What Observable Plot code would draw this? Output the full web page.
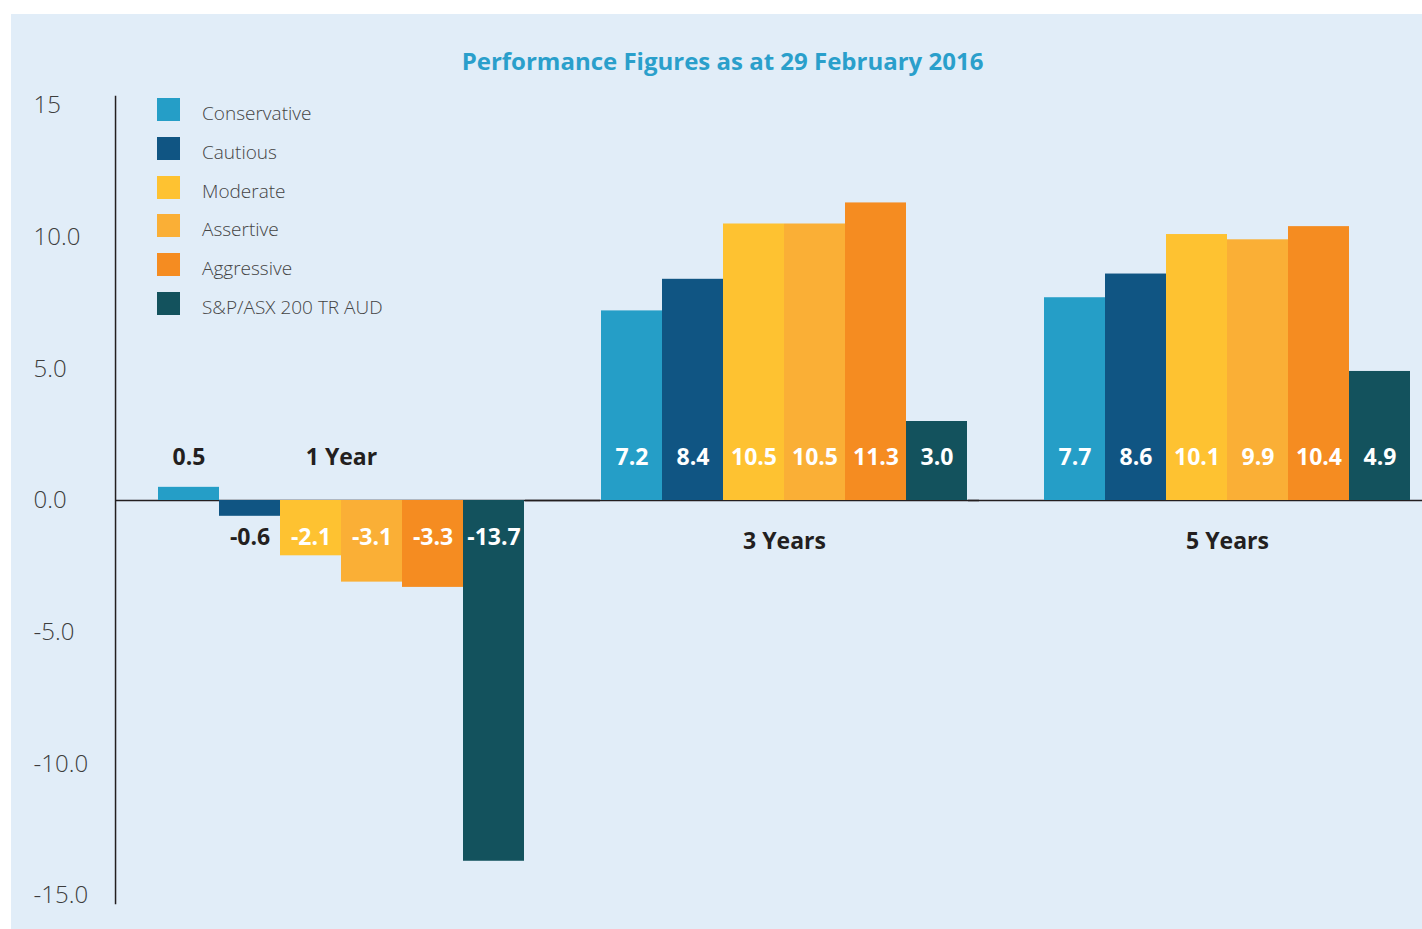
<!DOCTYPE html>
<html>
<head>
<meta charset="utf-8">
<script src="https://cdn.jsdelivr.net/npm/d3@7"></script>
<script src="https://cdn.jsdelivr.net/npm/@observablehq/plot@0.6"></script>
<style>
html, body { margin: 0; padding: 0; background: #ffffff; }
#panel { position: absolute; left: 11px; top: 14px; width: 1411px; height: 915px; background: #e1edf8; font-family: "Open Sans", sans-serif; overflow: hidden; }
#title { position: absolute; left: 6px; top: 31px; width: 1411px; text-align: center; color: #2a9fcb; font-weight: 700; font-size: 24px; line-height: 32px; margin: 0; }
#chart { position: absolute; left: 0; top: 72px; }
#legend { position: absolute; left: 146px; top: 84px; }
.row { position: relative; height: 38.8px; }
.sw { position: absolute; left: 0; top: 0; width: 23px; height: 23px; }
.lab { position: absolute; left: 45px; top: 4px; white-space: nowrap; font-size: 19px; line-height: 23px; font-weight: 300; color: #444444; }
</style>
</head>
<body>
<div id="panel">
  <div id="title">Performance Figures as at 29 February 2016</div>
  <div id="chart"></div>
  <div id="legend"></div>
</div>
<script>
const groups = ["1 Year", "3 Years", "5 Years"];
const series = ["Conservative", "Cautious", "Moderate", "Assertive", "Aggressive", "S&P/ASX 200 TR AUD"];
const colors = ["#259ec7", "#105583", "#fec231", "#faaf36", "#f58c21", "#13525d"];
const oneYear = [0.5, -0.6, -2.1, -3.1, -3.3, -13.7];
const threeYears = [7.2, 8.4, 10.5, 10.5, 11.3, 3.0];
const fiveYears = [7.7, 8.6, 10.1, 9.9, 10.4, 4.9];
const yTicks = [15, 10, 5, 0, -5, -10, -15];
const yTickLabels = ["15", "10.0", "5.0", "0.0", "-5.0", "-10.0", "-15.0"];

const groupValues = [oneYear, threeYears, fiveYears];
const rows = groups.flatMap((g, gi) => series.map((s, si) => ({group: g, series: s, value: groupValues[gi][si]})));
const groupInfo = groups.map((g, gi) => ({group: g, first: gi === 0, neg: groupValues[gi].some(v => v < 0)}));

const dark = "#231f20";
const labelFont = {fontFamily: "Open Sans", fontWeight: 700, fontSize: 23};

// layout of the facet bands
const W = 1411, ML = 104, MR = 0;
const padIn = 75 / 443, padOut = 0.0598, align = 0.792;
const step = (W - ML - MR) / (groups.length - padIn + 2 * padOut);
const gap = step * padIn;
const leftGap = (W - ML - MR - step * (groups.length - padIn)) * align;
const rightGap = (W - ML - MR - step * (groups.length - padIn)) * (1 - align);

const chart = Plot.plot({
  width: W,
  height: 842,
  marginLeft: ML,
  marginRight: MR,
  marginTop: 10,
  marginBottom: 25,
  style: {background: "transparent", fontFamily: "Open Sans"},
  fx: {domain: groups, paddingInner: padIn, paddingOuter: padOut, align: align, axis: null},
  x: {domain: series, padding: 0, axis: null},
  y: {domain: [-15, 15], insetTop: 9, insetBottom: 8, axis: null},
  color: {domain: series, range: colors},
  marks: [
    Plot.ruleY(groupInfo.filter(d => d.first), {fx: "group", y: () => 0, insetLeft: -leftGap, insetRight: -gap, stroke: dark, strokeWidth: 1.3}),
    Plot.ruleY(groupInfo.filter(d => !d.first), {fx: "group", y: () => 0, insetLeft: -gap, insetRight: -rightGap, stroke: dark, strokeWidth: 1.3}),
    Plot.frame({anchor: "left", facetAnchor: "left", insetLeft: -leftGap, stroke: dark, strokeWidth: 1.5}),
    Plot.axisY(yTicks, {
      anchor: "left", label: null, tickSize: 0, tickPadding: leftGap + 82, textAnchor: "start",
      tickFormat: d => yTickLabels[yTicks.indexOf(d)],
      fontSize: 24, fontWeight: 300, fill: "#3d3d3d", fontFamily: "Open Sans"
    }),
    Plot.barY(rows, {fx: "group", x: "series", y: "value", fill: "series"}),
    Plot.text(rows.filter(d => d.value >= 0), {
      fx: "group", x: "series", y: () => 0, text: d => d.value.toFixed(1), dy: -43,
      fill: d => Math.abs(d.value) < 1 ? dark : "#ffffff", ...labelFont
    }),
    Plot.text(rows.filter(d => d.value < 0), {
      fx: "group", x: "series", y: () => 0, text: d => d.value.toFixed(1), dy: 37,
      fill: d => Math.abs(d.value) < 1 ? dark : "#ffffff", ...labelFont
    }),
    Plot.text(groupInfo.filter(d => d.neg), {fx: "group", y: () => 0, text: "group", dy: -43, fill: dark, ...labelFont}),
    Plot.text(groupInfo.filter(d => !d.neg), {fx: "group", y: () => 0, text: "group", dy: 41, fill: dark, ...labelFont})
  ]
});
document.getElementById("chart").appendChild(chart);

const legend = document.getElementById("legend");
series.forEach((s, i) => {
  const row = document.createElement("div");
  row.className = "row";
  const sw = document.createElement("div");
  sw.className = "sw";
  sw.style.background = colors[i];
  const lab = document.createElement("span");
  lab.className = "lab";
  lab.textContent = s;
  row.appendChild(sw);
  row.appendChild(lab);
  legend.appendChild(row);
});
</script>
</body>
</html>
